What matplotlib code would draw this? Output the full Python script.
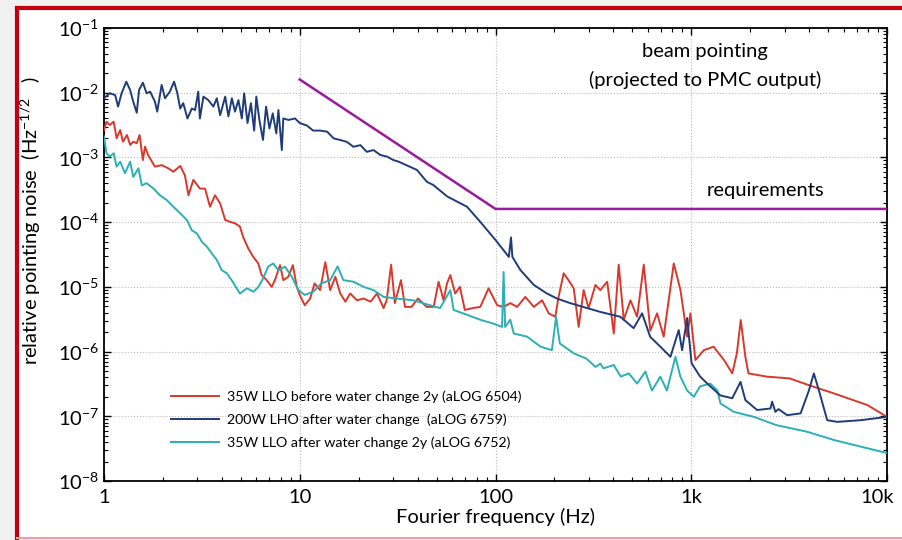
import numpy as np
import matplotlib
matplotlib.use("Agg")
import matplotlib.pyplot as plt
import matplotlib.transforms as mtransforms
from matplotlib.lines import Line2D
from matplotlib.ticker import LogLocator, FixedLocator, LogFormatterMathtext, NullFormatter

plt.rcParams['font.family'] = ['Lato', 'DejaVu Sans']
plt.rcParams['mathtext.default'] = 'regular'

# 35W LLO before water change 2y (aLOG 6504)
red_f = [1.0, 1.03, 1.07, 1.12, 1.16, 1.21, 1.25, 1.31, 1.36, 1.41, 1.47, 1.52, 1.58, 1.62, 1.68,
         1.82, 1.97, 2.13, 2.26, 2.45, 2.59, 2.70, 2.86, 3.09, 3.28, 3.48, 3.69, 3.92, 4.16, 4.41,
         4.67, 4.95, 5.14, 5.46, 5.79, 6.14, 6.39, 6.78, 7.19, 7.47, 7.93, 8.24, 8.74, 9.22, 9.66,
         10.0, 10.6, 11.3, 11.9, 12.7, 13.5, 14.3, 15.2, 16.1, 17.1, 18.1, 19.6, 21.2, 23.0, 24.8,
         26.8, 27.8, 29.3, 30.6, 31.9, 32.9, 34.5, 37.2, 40.2, 44.5, 48.3, 51.2, 54.3, 56.5, 58.8,
         62.2, 65.8, 69.7, 76.6, 83.6, 92.2, 102, 110, 119, 129, 142, 157, 173, 187, 202,
         210, 223, 236, 251, 266, 282, 299, 324, 343, 372, 402, 426, 452, 489, 529,
         572, 618, 669, 723, 814, 881, 953, 990, 1050, 1160, 1300, 1470, 1620, 1710, 1790,
         1890, 1960, 2430, 3180, 4020, 5350, 7940, 10000]
red_v = [2.65e-3, 3.56e-3, 3.17e-3, 3.56e-3, 1.98e-3, 2.65e-3, 1.75e-3, 2.22e-3, 1.56e-3, 1.75e-3,
         1.66e-3, 2.22e-3, 9.1e-4, 1.47e-3, 1.09e-3, 7.2e-4, 7.6e-4, 6.8e-4, 6.0e-4, 7.4e-4,
         5.3e-4, 2.6e-4, 4.5e-4, 3.3e-4, 3.3e-4, 1.73e-4, 2.6e-4, 1.95e-4, 1.08e-4, 1.01e-4,
         9.6e-5, 8.5e-5, 5.9e-5, 3.9e-5, 2.9e-5, 2.3e-5, 1.52e-5, 1.27e-5, 1.0e-5, 1.27e-5,
         2.17e-5, 1.27e-5, 1.43e-5, 2.17e-5, 1.0e-5, 7.5e-6, 5.2e-6, 6.6e-6, 1.13e-5, 8.9e-6,
         2.4e-5, 8.9e-6, 1.43e-5, 7.9e-6, 5.9e-6, 7.9e-6, 6.2e-6, 6.6e-6, 5.9e-6, 7.9e-6,
         4.7e-6, 6.2e-6, 2.2e-5, 5.6e-6, 8.9e-6, 1.27e-5, 4.9e-6, 4.9e-6, 6.6e-6, 4.9e-6,
         4.9e-6, 1.2e-5, 6.2e-6, 1.13e-5, 1.52e-5, 7.9e-6, 1.0e-5, 4.4e-6, 4.7e-6, 4.9e-6,
         9.5e-6, 5.2e-6, 4.9e-6, 5.6e-6, 4.9e-6, 7.0e-6, 4.9e-6, 6.2e-6, 3.9e-6, 3.45e-6,
         7.0e-6, 1.62e-5, 1.27e-5, 9.5e-6, 2.4e-6, 8.9e-6, 4.7e-6, 1.07e-5, 8.9e-6, 1.2e-5,
         1.9e-6, 2.2e-5, 3.1e-6, 6.2e-6, 3.45e-6, 2.2e-5, 2.1e-6, 3.9e-6, 1.7e-6, 2.3e-5,
         8.9e-6, 1.7e-6, 3.9e-6, 7.4e-7, 1.05e-6, 1.19e-6, 7.4e-7, 4.6e-7, 9.4e-7, 3.07e-6,
         8.3e-7, 4.6e-7, 4.1e-7, 3.85e-7, 3.0e-7, 2.26e-7, 1.49e-7, 9.8e-8]

# 200W LHO after water change (aLOG 6759)
blue_f = [1.0, 1.07, 1.14, 1.18, 1.23, 1.30, 1.36, 1.41, 1.47, 1.51, 1.58, 1.65, 1.72, 1.82, 1.87,
          1.97, 2.05, 2.17, 2.28, 2.37, 2.45, 2.54, 2.67, 2.81, 2.92, 3.03, 3.09, 3.22, 3.41, 3.62,
          3.77, 3.92, 4.16, 4.32, 4.50, 4.67, 4.86, 5.06, 5.20, 5.41, 5.63, 5.85, 6.0, 6.22, 6.49,
          6.73, 7.0, 7.28, 7.59, 7.78, 8.10, 8.24, 8.76, 9.46, 10.0, 10.9, 11.7, 12.7, 13.8, 14.9,
          16.1, 17.4, 18.8, 20.4, 22.0, 23.8, 25.8, 27.9, 30.1, 32.0, 39.7, 44.6, 48.1, 56.6, 71.5,
          83.6, 100, 117, 120, 122, 134, 157, 183, 206, 241, 294, 343, 434, 508, 561,
          617, 697, 783, 863, 898, 953, 1004, 1110, 1250, 1410, 1620, 1785, 1890, 2170, 2540,
          2590, 2690, 2790, 3090, 3620, 3990, 4230, 4490, 4950, 5570, 7330, 10000]
blue_v = [8.2e-3, 9.8e-3, 9.2e-3, 6.1e-3, 9.8e-3, 1.48e-2, 1.1e-2, 7.3e-3, 4.9e-3, 1.1e-2,
          1.43e-2, 9.8e-3, 1.04e-2, 7.3e-3, 5.1e-3, 1.32e-2, 8.2e-3, 1.04e-2, 1.48e-2, 9.8e-3,
          5.7e-3, 6.9e-3, 4.0e-3, 5.7e-3, 5.4e-3, 1.04e-2, 4.0e-3, 8.7e-3, 7.7e-3, 6.1e-3,
          8.2e-3, 4.5e-3, 8.7e-3, 4.3e-3, 8.2e-3, 5.1e-3, 7.7e-3, 4.0e-3, 9.8e-3, 3.4e-3,
          6.9e-3, 2.6e-3, 8.7e-3, 3.8e-3, 1.86e-3, 6.1e-3, 2.8e-3, 4.8e-3, 2.35e-3, 5.4e-3,
          1.3e-3, 4.0e-3, 3.8e-3, 4.0e-3, 3.4e-3, 3.1e-3, 2.6e-3, 2.6e-3, 2.5e-3, 1.97e-3,
          1.86e-3, 1.74e-3, 1.46e-3, 1.55e-3, 1.22e-3, 1.3e-3, 1.09e-3, 1.03e-3, 9.1e-4, 8.6e-4,
          6.4e-4, 4.2e-4, 3.75e-4, 2.5e-4, 1.73e-4, 1.01e-4, 5.3e-5, 2.9e-5, 5.8e-5, 2.9e-5,
          1.82e-5, 1.07e-5, 7.9e-6, 6.6e-6, 5.6e-6, 4.7e-6, 4.1e-6, 3.45e-6, 2.3e-6, 3.9e-6,
          1.69e-6, 1.18e-6, 8.3e-7, 2.15e-6, 1.05e-6, 3.3e-6, 6.6e-7, 4.1e-7, 2.9e-7, 2.1e-7,
          1.9e-7, 3.4e-7, 1.78e-7, 1.25e-7, 1.32e-7, 1.68e-7, 1.17e-7, 1.29e-7, 1.04e-7, 1.11e-7,
          2.5e-7, 4.6e-7, 2.5e-7, 8.7e-8, 8.2e-8, 8.7e-8, 9.8e-8]

# 35W LLO after water change 2y (aLOG 6752)
cyan_f = [1.0, 1.03, 1.07, 1.12, 1.16, 1.21, 1.28, 1.36, 1.41, 1.50, 1.56, 1.65, 1.79, 1.93, 2.09,
          2.26, 2.45, 2.65, 2.81, 2.98, 3.16, 3.35, 3.55, 3.77, 3.99, 4.24, 4.49, 4.76, 4.95, 5.37,
          5.81, 6.15, 6.50, 6.89, 7.32, 7.78, 8.41, 9.11, 9.85, 10.6, 11.7, 12.9, 14.3, 15.6, 16.7,
          18.8, 21.2, 23.8, 26.8, 31.2, 38.0, 46.3, 52.1, 58.8, 61.1, 71.5, 83.6, 97.8, 108, 110,
          112, 119, 124, 145, 170, 194, 204, 213, 251, 291, 324, 343, 356, 402, 436,
          480, 529, 583, 630, 695, 751, 830, 880, 953, 1030, 1110, 1250, 1360, 1410, 1650,
          2090, 2720, 3880, 5360, 7330, 10000]
cyan_v = [2.1e-3, 1.16e-3, 1.03e-3, 1.16e-3, 7.2e-4, 8.6e-4, 5.7e-4, 8.6e-4, 5.0e-4, 6.8e-4,
          3.7e-4, 4.0e-4, 3.3e-4, 2.6e-4, 2.2e-4, 1.73e-4, 1.37e-4, 1.08e-4, 7.5e-5, 6.7e-5,
          5.0e-5, 4.2e-5, 3.3e-5, 2.6e-5, 1.82e-5, 1.62e-5, 1.27e-5, 9.5e-6, 7.9e-6, 9.5e-6,
          8.4e-6, 1.0e-5, 1.35e-5, 2.05e-5, 2.3e-5, 1.8e-5, 2.05e-5, 1.43e-5, 8.9e-6, 7.5e-6,
          8.4e-6, 1.13e-5, 1.27e-5, 2.07e-5, 1.27e-5, 1.2e-5, 1.0e-5, 8.9e-6, 7.0e-6, 6.6e-6,
          6.2e-6, 5.2e-6, 4.7e-6, 8.9e-6, 4.4e-6, 3.7e-6, 3.1e-6, 2.7e-6, 2.4e-6, 1.7e-5,
          2.4e-6, 3.1e-6, 1.9e-6, 1.7e-6, 1.19e-6, 1.05e-6, 3.45e-6, 1.34e-6, 9.4e-7, 7.8e-7,
          5.8e-7, 6.5e-7, 5.5e-7, 6.2e-7, 4.1e-7, 4.6e-7, 3.2e-7, 4.9e-7, 2.5e-7, 4.1e-7,
          2.5e-7, 8.3e-7, 4.1e-7, 2.5e-7, 2.0e-7, 2.9e-7, 3.2e-7, 2.5e-7, 1.58e-7, 1.17e-7,
          9.8e-8, 7.3e-8, 5.8e-8, 4.3e-8, 3.4e-8, 2.7e-8]

# beam pointing requirement
req_f = [10, 100, 10000]
req_v = [1.6e-2, 1.6e-4, 1.6e-4]

labels = ['35W LLO before water change 2y (aLOG 6504)',
          '200W LHO after water change  (aLOG 6759)',
          '35W LLO after water change 2y (aLOG 6752)']

fig = plt.figure(figsize=(9.02, 5.40), dpi=100, facecolor='#f1f1f1')

# white panel with red frame like the slide
panel = plt.Rectangle((17 / 902, 2 / 540), 1.0, 530 / 540, transform=fig.transFigure,
                      facecolor='white', edgecolor='none', zorder=0)
fig.add_artist(panel)
fig.add_artist(Line2D([17 / 902, 17 / 902], [2 / 540, 532 / 540], transform=fig.transFigure,
                      color='#c40010', lw=3))
fig.add_artist(Line2D([17 / 902, 1.0], [532 / 540, 532 / 540], transform=fig.transFigure,
                      color='#c40010', lw=3))
fig.add_artist(Line2D([17 / 902, 1.0], [2 / 540, 2 / 540], transform=fig.transFigure,
                      color='#e8a0a4', lw=1.5))

ax = fig.add_axes([104 / 902, 59 / 540, 783 / 902, 453 / 540])
ax.set_facecolor('white')

ax.plot(req_f, req_v, color='#9a1a9c', lw=1.8, zorder=3)
ax.plot(red_f, red_v, color='#d9382a', lw=1.4, label=labels[0], zorder=4)
ax.plot(blue_f, blue_v, color='#1f3c78', lw=1.4, label=labels[1], zorder=5)
ax.plot(cyan_f, cyan_v, color='#2bb0b5', lw=1.4, label=labels[2], zorder=4)

ax.set_xscale('log')
ax.set_yscale('log')
ax.set_xlim(1, 10000)
ax.set_ylim(1e-8, 1e-1)

ax.xaxis.set_major_locator(FixedLocator([1, 10, 100, 1000, 10000]))
ax.set_xticklabels(['1', '10', '100', '1k', '10k'])
ax.xaxis.set_minor_locator(LogLocator(base=10, subs=np.arange(2, 10)))
ax.xaxis.set_minor_formatter(NullFormatter())
ax.yaxis.set_major_locator(LogLocator(base=10, numticks=10))
ax.yaxis.set_major_formatter(LogFormatterMathtext())
ax.yaxis.set_minor_locator(LogLocator(base=10, subs=np.arange(2, 10), numticks=20))
ax.yaxis.set_minor_formatter(NullFormatter())

ax.tick_params(which='both', direction='in', top=True, right=True, labelsize=14.5)
ax.tick_params(which='major', length=5, width=1)
ax.tick_params(which='minor', length=3, width=0.8)
ax.tick_params(axis='x', pad=6)
for s in ax.spines.values():
    s.set_linewidth(1.3)

# last x label sits a bit left of its tick, as in the slide
last = ax.get_xticklabels()[-1]
last.set_transform(last.get_transform() + mtransforms.ScaledTranslation(-10 / 100, 0, fig.dpi_scale_trans))

ax.grid(True, which='major', linestyle=':', color='#bbbbbb', lw=0.8)

ax.set_xlabel('Fourier frequency (Hz)', fontsize=14.5, labelpad=1)
ax.set_ylabel('relative pointing noise  (Hz$^{-1/2}$   )', fontsize=14.5)
ax.yaxis.set_label_coords(-0.078, 0.575)

ax.text(1180, 4.4e-2, 'beam pointing', ha='center', va='center', fontsize=14.5)
ax.text(1180, 1.57e-2, '(projected to PMC output)', ha='center', va='center', fontsize=14.5)
ax.text(2400, 3.1e-4, 'requirements', ha='center', va='center', fontsize=14.5)

leg = ax.legend(loc='lower left', bbox_to_anchor=(0.069, 0.042), frameon=False, fontsize=10.2,
                handlelength=3.4, handletextpad=0.6, labelspacing=0.74)

fig.savefig('out.png', dpi=100, facecolor=fig.get_facecolor())
